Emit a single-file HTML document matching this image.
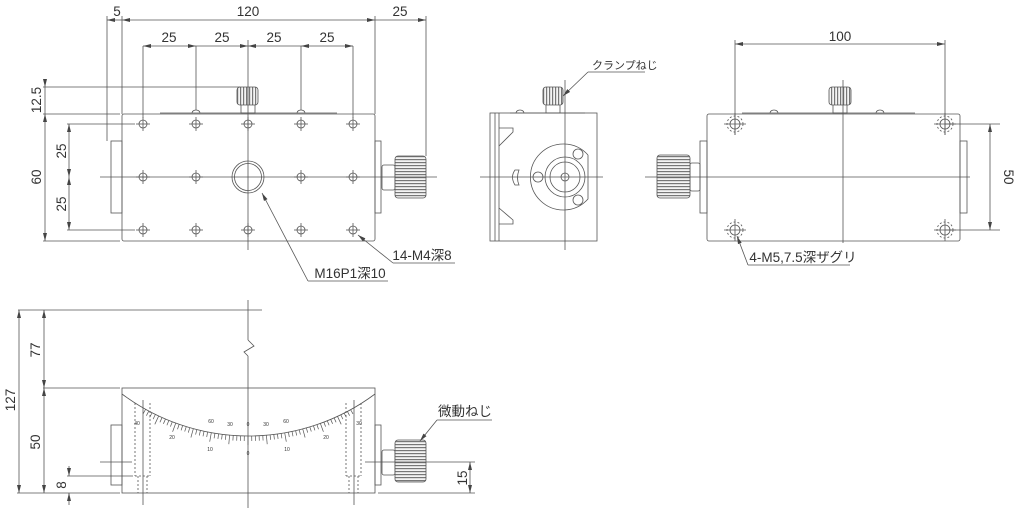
<!DOCTYPE html>
<html><head><meta charset="utf-8"><style>
html,body{margin:0;padding:0;background:#fff;}
svg{display:block}
text{font-family:"Liberation Sans","Noto Sans CJK JP",sans-serif;fill:#333;}
</style></head><body>
<svg id="s" width="1024" height="508" viewBox="0 0 1024 508" xmlns="http://www.w3.org/2000/svg">
<defs>
<pattern id="kn" width="3" height="4" patternUnits="userSpaceOnUse"><rect width="3" height="4" fill="#f4f4f4"/><rect width="1.2" height="4" fill="#777"/></pattern>
<pattern id="kh" width="4" height="3" patternUnits="userSpaceOnUse"><rect width="4" height="3" fill="#f4f4f4"/><rect width="4" height="1.2" fill="#777"/></pattern>
<marker id="ar" viewBox="0 0 8 4" refX="8" refY="2" markerWidth="8" markerHeight="4" orient="auto-start-reverse" markerUnits="userSpaceOnUse"><path d="M0 0 L8 2 L0 4z" fill="#444"/></marker>
</defs>
<g stroke="#555" stroke-width="0.8" fill="none">
<!-- TOP VIEW -->
<rect x="122" y="114" width="253" height="127" rx="2"/>
<rect x="111" y="141" width="11" height="72"/>
<rect x="375" y="141" width="6" height="72"/>
<rect x="382" y="165" width="13" height="25" rx="2"/>
<rect x="395" y="156" width="31" height="42" rx="3" fill="url(#kh)"/>
<line x1="160" y1="113" x2="337" y2="113"/>
<path d="M192 113 a4 3 0 0 1 8 0 M297 113 a4 3 0 0 1 8 0"/>
<rect x="241" y="103" width="14" height="10"/>
<rect x="237" y="87" width="21" height="18" rx="3" fill="url(#kn)"/>
<circle cx="248" cy="177" r="16"/><circle cx="248" cy="177" r="13.5"/>
<!-- dims top -->
<line x1="107" y1="20" x2="122" y2="20" marker-start="url(#ar)"/>
<line x1="122" y1="20" x2="375" y2="20" marker-start="url(#ar)" marker-end="url(#ar)"/>
<line x1="375" y1="20" x2="426" y2="20" marker-end="url(#ar)"/>
<line x1="107" y1="16" x2="107" y2="141"/><line x1="122" y1="16" x2="122" y2="114"/>
<line x1="375" y1="16" x2="375" y2="114"/><line x1="426" y1="16" x2="426" y2="156"/>
<line x1="143" y1="46" x2="196" y2="46" marker-start="url(#ar)" marker-end="url(#ar)"/>
<line x1="196" y1="46" x2="248" y2="46" marker-end="url(#ar)"/>
<line x1="248" y1="46" x2="301" y2="46" marker-start="url(#ar)"/>
<line x1="301" y1="46" x2="353" y2="46" marker-start="url(#ar)" marker-end="url(#ar)"/>
<line x1="143" y1="46" x2="143" y2="118"/><line x1="196" y1="46" x2="196" y2="110"/>
<line x1="301" y1="46" x2="301" y2="110"/><line x1="353" y1="46" x2="353" y2="118"/>
<line x1="45" y1="80" x2="45" y2="87" marker-end="url(#ar)"/>
<line x1="45" y1="114" x2="45" y2="241" marker-start="url(#ar)" marker-end="url(#ar)"/>
<line x1="45" y1="87" x2="45" y2="114"/>
<line x1="43" y1="87" x2="240" y2="87"/><line x1="43" y1="114" x2="120" y2="114"/>
<line x1="43" y1="241" x2="120" y2="241"/>
<line x1="69" y1="124" x2="69" y2="177" marker-start="url(#ar)" marker-end="url(#ar)"/>
<line x1="69" y1="177" x2="69" y2="230" marker-start="url(#ar)" marker-end="url(#ar)"/>
<line x1="67" y1="124" x2="135" y2="124"/><line x1="67" y1="230" x2="135" y2="230"/>
<line x1="100" y1="177" x2="437" y2="177"/>
<line x1="248" y1="40" x2="248" y2="250"/>
<polyline points="393,263 358,235" marker-end="url(#ar)"/><line x1="393" y1="263" x2="455" y2="263"/>
<polyline points="308,281 262,193" marker-end="url(#ar)"/><line x1="308" y1="281" x2="388" y2="281"/>
<!-- FRONT VIEW -->
<rect x="490" y="113" width="107" height="128"/>
<line x1="495" y1="113" x2="495" y2="241"/><line x1="499" y1="113" x2="499" y2="241"/>
<polyline points="499,128 513,128 513,132 499,146"/>
<polyline points="499,208 513,220 513,224 499,224"/>
<path d="M515 170 q-5 7 0 15 l4 0 q-3 -7 0 -15z"/>
<path d="M588 155 A33 33 0 1 0 588 199 L588 155"/>
<circle cx="565" cy="177" r="20"/><circle cx="565" cy="177" r="15"/><circle cx="565" cy="177" r="4"/>
<circle cx="538" cy="177" r="5"/><circle cx="578" cy="154" r="5"/><circle cx="578" cy="200" r="5"/>
<path d="M516 113 a4 3 0 0 1 8 0"/><line x1="510" y1="113" x2="585" y2="113"/>
<rect x="546" y="103" width="14" height="10"/>
<rect x="543" y="87" width="20" height="18" rx="3" fill="url(#kn)"/>
<line x1="480" y1="177" x2="603" y2="177"/><line x1="565" y1="80" x2="565" y2="250"/>
<polyline points="588,72 563,96" marker-end="url(#ar)"/><line x1="588" y1="72" x2="645" y2="72"/>
<!-- RIGHT VIEW -->
<rect x="707" y="114" width="253" height="127" rx="2"/>
<rect x="700" y="141" width="7" height="72"/>
<rect x="960" y="141" width="7" height="72"/>
<rect x="690" y="163" width="10" height="28" rx="2"/>
<rect x="657" y="155" width="33" height="43" rx="3" fill="url(#kh)"/>
<line x1="742" y1="113" x2="915" y2="113"/>
<path d="M770 113 a4 3 0 0 1 8 0 M876 113 a4 3 0 0 1 8 0"/>
<rect x="833" y="103" width="14" height="10"/>
<rect x="829" y="87" width="22" height="18" rx="3" fill="url(#kn)"/>
<line x1="645" y1="177" x2="970" y2="177"/><line x1="843" y1="80" x2="843" y2="243"/>
<line x1="735" y1="44" x2="945" y2="44" marker-start="url(#ar)" marker-end="url(#ar)"/>
<line x1="735" y1="40" x2="735" y2="135"/><line x1="945" y1="40" x2="945" y2="135"/>
<line x1="945" y1="124" x2="1000" y2="124"/><line x1="945" y1="230" x2="1000" y2="230"/>
<line x1="990" y1="124" x2="990" y2="230" marker-start="url(#ar)" marker-end="url(#ar)"/>
<polyline points="748,265 737,236" marker-end="url(#ar)"/><line x1="748" y1="265" x2="850" y2="265"/>
<!-- BOTTOM VIEW -->
<rect x="122" y="388" width="253" height="105"/>
<path d="M122 394 A211.5 211.5 0 0 0 375 394"/>
<rect x="111" y="425" width="11" height="60"/>
<rect x="375" y="425" width="6" height="60"/>
<rect x="382" y="450" width="13" height="25" rx="2"/>
<rect x="395" y="440" width="31" height="42" rx="3" fill="url(#kh)"/>
<g stroke-dasharray="2,2"><line x1="135" y1="403" x2="135" y2="476"/><line x1="150" y1="403" x2="150" y2="476"/><line x1="135" y1="476" x2="150" y2="476"/>
<line x1="138" y1="476" x2="138" y2="493"/><line x1="147" y1="476" x2="147" y2="493"/>
<line x1="346" y1="403" x2="346" y2="476"/><line x1="361" y1="403" x2="361" y2="476"/><line x1="346" y1="476" x2="361" y2="476"/>
<line x1="349" y1="476" x2="349" y2="493"/><line x1="358" y1="476" x2="358" y2="493"/></g>
<line x1="143" y1="400" x2="143" y2="505"/><line x1="354" y1="400" x2="354" y2="505"/>
<line x1="248" y1="300" x2="248" y2="340"/><polyline points="248,340 254,346 244,352 248,356"/><line x1="248" y1="356" x2="248" y2="508"/>
<line x1="18" y1="310" x2="262" y2="310"/>
<line x1="19" y1="310" x2="19" y2="493" marker-start="url(#ar)" marker-end="url(#ar)"/>
<line x1="44" y1="310" x2="44" y2="388" marker-start="url(#ar)" marker-end="url(#ar)"/>
<line x1="44" y1="388" x2="44" y2="493" marker-start="url(#ar)" marker-end="url(#ar)"/>
<line x1="43" y1="388" x2="120" y2="388"/><line x1="17" y1="493" x2="120" y2="493"/>
<line x1="69" y1="466" x2="69" y2="476" marker-end="url(#ar)"/>
<line x1="69" y1="505" x2="69" y2="493" marker-end="url(#ar)"/>
<line x1="67" y1="476" x2="133" y2="476"/>
<line x1="100" y1="462" x2="132" y2="462"/><line x1="365" y1="462" x2="475" y2="462"/>
<line x1="378" y1="493" x2="475" y2="493"/>
<line x1="470" y1="462" x2="470" y2="493" marker-start="url(#ar)" marker-end="url(#ar)"/>
<polyline points="437,420 420,441" marker-end="url(#ar)"/><line x1="437" y1="420" x2="492" y2="420"/>
<g id="ticks" stroke-width="0.7"></g>
</g>
<g font-size="13.5" text-anchor="middle">
<text x="117" y="16">5</text><text x="248" y="16">120</text><text x="400" y="16">25</text>
<text x="169" y="42">25</text><text x="222" y="42">25</text><text x="274" y="42">25</text><text x="327" y="42">25</text>
<text transform="translate(41,100) rotate(-90)">12.5</text>
<text transform="translate(41,177) rotate(-90)">60</text>
<text transform="translate(66,151) rotate(-90)">25</text>
<text transform="translate(66,204) rotate(-90)">25</text>
<text x="422" y="260">14-M4深8</text>
<text x="350" y="278">M16P1深10</text>
<text x="840" y="41">100</text>
<text transform="translate(1004,177) rotate(90)">50</text>
<text x="803" y="262">4-M5,7.5深ザグリ</text>
<text transform="translate(15,400) rotate(-90)">127</text>
<text transform="translate(40,350) rotate(-90)">77</text>
<text transform="translate(40,442) rotate(-90)">50</text>
<text transform="translate(66,485) rotate(-90)">8</text>
<text transform="translate(467,478) rotate(-90)">15</text>
<text x="465" y="416">微動ねじ</text>
</g>
<text x="592" y="69" font-size="11">クランプねじ</text>
<g font-size="5" text-anchor="middle">
<text x="211" y="423">60</text><text x="230" y="426">30</text><text x="248" y="426">0</text><text x="266" y="426">30</text><text x="286" y="423">60</text>
<text x="172" y="439">20</text><text x="210" y="451">10</text><text x="248" y="455">0</text><text x="287" y="451">10</text><text x="326" y="439">20</text>
<text x="137" y="425">40</text><text x="359" y="425">30</text>
</g>
</svg>
<script>
(function(){
var g=document.getElementById('ticks'),cx=248,cy=224.5,R=211.5,s='';
for(var d=-29;d<=29;d++){var a=d*Math.PI/180,L=(d%5==0)?9:5;
var x1=cx+R*Math.sin(a),y1=cy+R*Math.cos(a),x2=cx+(R+L)*Math.sin(a),y2=cy+(R+L)*Math.cos(a);
s+='<line x1="'+x1.toFixed(1)+'" y1="'+y1.toFixed(1)+'" x2="'+x2.toFixed(1)+'" y2="'+y2.toFixed(1)+'"/>';}
g.innerHTML=s;
var holes=[[143,124],[196,124],[248,124],[301,124],[353,124],[143,177],[196,177],[301,177],[353,177],[143,230],[196,230],[248,230],[301,230],[353,230]];
var m=document.querySelector('#s > g'),h='';
holes.forEach(function(p){h+='<circle cx="'+p[0]+'" cy="'+p[1]+'" r="4"/><line x1="'+(p[0]-7)+'" y1="'+p[1]+'" x2="'+(p[0]+7)+'" y2="'+p[1]+'"/><line x1="'+p[0]+'" y1="'+(p[1]-7)+'" x2="'+p[0]+'" y2="'+(p[1]+7)+'"/>';});
[[735,124],[945,124],[735,230],[945,230]].forEach(function(p){h+='<circle cx="'+p[0]+'" cy="'+p[1]+'" r="5"/><circle cx="'+p[0]+'" cy="'+p[1]+'" r="8" stroke-dasharray="2,2"/><line x1="'+(p[0]-11)+'" y1="'+p[1]+'" x2="'+(p[0]+11)+'" y2="'+p[1]+'"/><line x1="'+p[0]+'" y1="'+(p[1]-11)+'" x2="'+p[0]+'" y2="'+(p[1]+11)+'"/>';});
m.insertAdjacentHTML('beforeend',h);
})();
</script>
</body></html>
